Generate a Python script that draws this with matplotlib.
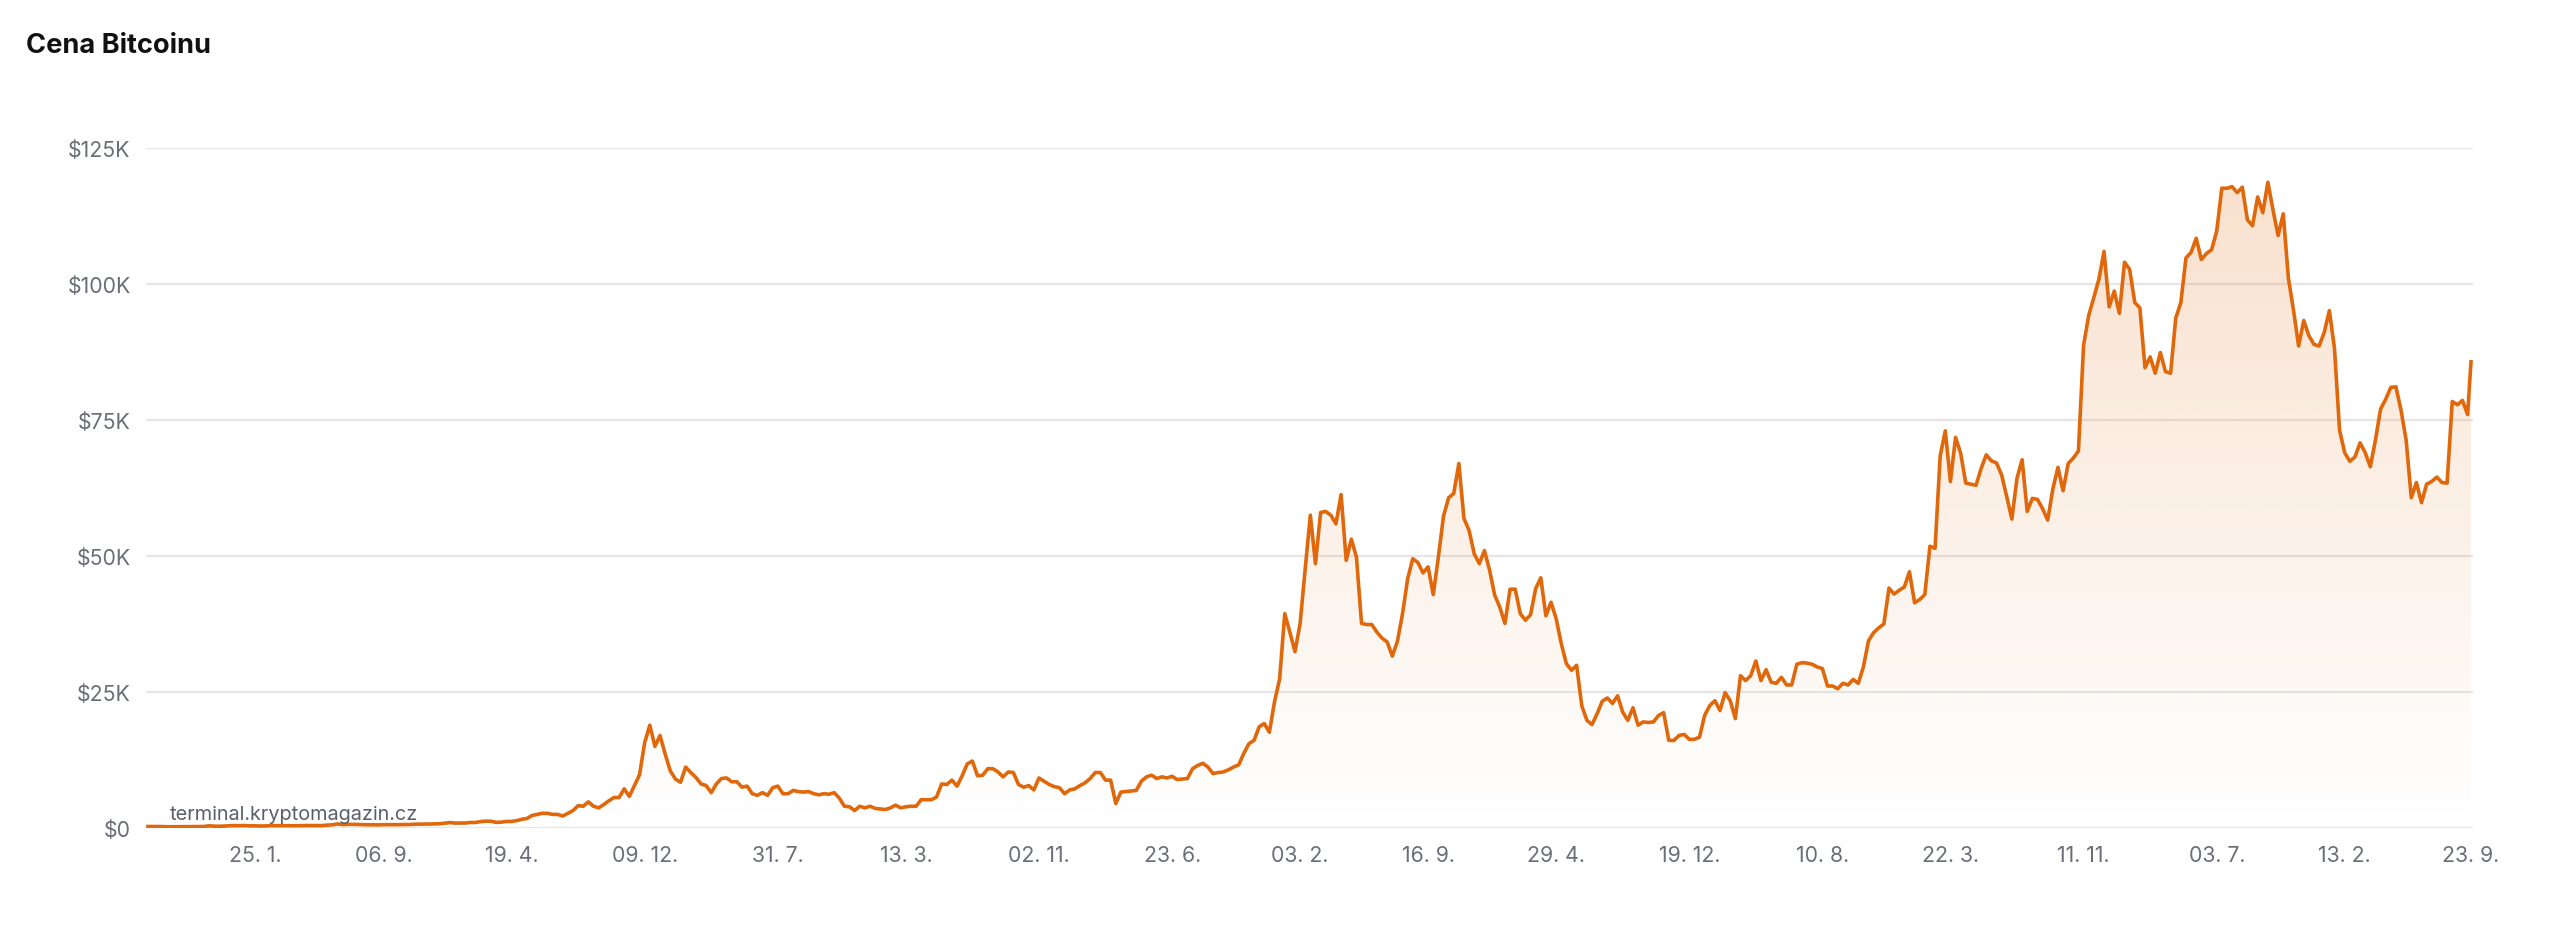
import numpy as np
import pandas as pd
import matplotlib
matplotlib.use("Agg")
import matplotlib.pyplot as plt
import matplotlib.dates as mdates
from matplotlib.colors import to_rgb

plt.rcParams['font.family'] = ['Inter', 'DejaVu Sans']

# ---------------- data ----------------
title = "Cena Bitcoinu"
watermark = "terminal.kryptomagazin.cz"
start_date = "2015-07-20"
step = "9D"
last_date = "2026-09-23"

# price in thousands of USD, one value every 9 days from start_date
price_k = [
    0.28, 0.285, 0.27, 0.26, 0.225, 0.23, 0.24, 0.23, 0.237, 0.245, 0.265, 0.29, 0.40, 0.33, 0.325, 0.36, 0.42, 0.44, 0.43, 0.45,
    0.39, 0.395, 0.37, 0.38, 0.44, 0.43, 0.415, 0.41, 0.42, 0.42, 0.43, 0.46, 0.445, 0.455, 0.44, 0.53, 0.58, 0.75, 0.63, 0.67,
    0.66, 0.655, 0.605, 0.59, 0.575, 0.575, 0.61, 0.61, 0.60, 0.612, 0.64, 0.63, 0.70, 0.71, 0.74, 0.735, 0.765, 0.78, 0.90, 1.00,
    0.90, 0.90, 0.92, 1.02, 1.01, 1.18, 1.26, 1.24, 1.03, 1.08, 1.21, 1.21, 1.35, 1.60, 1.75, 2.30, 2.50, 2.70, 2.70, 2.50,
    2.50, 2.20, 2.70, 3.20, 4.10, 4.00, 4.80, 4.00, 3.70, 4.30, 5.00, 5.60, 5.60, 7.20, 5.80, 7.80, 9.80, 15.7, 18.9, 15.0,
    17.0, 13.6, 10.5, 9.0, 8.4, 11.2, 10.2, 9.3, 8.1, 7.8, 6.5, 8.1, 9.1, 9.2, 8.5, 8.5, 7.5, 7.7, 6.3, 6.0,
    6.5, 6.0, 7.4, 7.7, 6.3, 6.3, 6.9, 6.7, 6.6, 6.7, 6.3, 6.1, 6.3, 6.2, 6.5, 5.5, 4.0, 3.9, 3.2, 4.0,
    3.7, 4.0, 3.6, 3.5, 3.4, 3.7, 4.2, 3.7, 3.9, 4.0, 4.0, 5.2, 5.2, 5.2, 5.7, 8.1, 8.0, 8.8, 7.7, 9.6,
    11.8, 12.3, 9.6, 9.7, 10.9, 10.9, 10.3, 9.4, 10.3, 10.2, 8.0, 7.5, 7.8, 7.0, 9.2, 8.6, 8.0, 7.6, 7.4, 6.3,
    7.0, 7.2, 7.8, 8.3, 9.1, 10.2, 10.2, 8.8, 8.8, 4.5, 6.6, 6.7, 6.8, 6.9, 8.6, 9.4, 9.7, 9.1, 9.4, 9.2,
    9.5, 8.9, 9.0, 9.1, 10.9, 11.5, 11.9, 11.2, 10.0, 10.2, 10.3, 10.7, 11.2, 11.6, 13.7, 15.5, 16.1, 18.6, 19.2, 17.6,
    23.2, 27.4, 39.4, 36.0, 32.4, 37.6, 47.7, 57.5, 48.6, 58.0, 58.2, 57.5, 55.9, 61.3, 49.2, 53.1, 49.8, 37.6, 37.4, 37.4,
    36.0, 34.9, 34.2, 31.6, 34.3, 39.4, 45.8, 49.5, 48.8, 46.9, 48.0, 42.9, 49.8, 57.3, 60.7, 61.5, 67.0, 56.9, 54.7, 50.4,
    48.6, 51.0, 47.4, 42.8, 40.6, 37.6, 43.9, 43.9, 39.4, 38.2, 39.2, 44.0, 46.0, 39.0, 41.5, 38.5, 33.9, 30.2, 29.0, 29.9,
    22.5, 19.8, 19.0, 21.0, 23.3, 23.9, 22.9, 24.3, 21.3, 19.8, 22.1, 18.9, 19.5, 19.4, 19.5, 20.7, 21.2, 16.1, 16.1, 17.0,
    17.2, 16.3, 16.3, 16.7, 20.7, 22.5, 23.4, 21.6, 24.9, 23.4, 20.1, 28.0, 27.1, 28.0, 30.7, 27.1, 29.1, 26.8, 26.6, 27.7,
    26.3, 26.3, 30.1, 30.4, 30.3, 30.1, 29.6, 29.3, 26.1, 26.1, 25.6, 26.6, 26.3, 27.3, 26.6, 29.6, 34.4, 35.9, 36.8, 37.5,
    44.1, 43.0, 43.7, 44.3, 47.1, 41.4, 42.0, 42.9, 51.8, 51.4, 68.4, 73.0, 63.7, 71.8, 68.9, 63.4, 63.2, 63.0, 66.1, 68.6,
    67.5, 67.1, 64.9, 60.9, 56.8, 64.3, 67.7, 58.2, 60.6, 60.4, 58.7, 56.6, 62.3, 66.3, 62.0, 67.0, 68.0, 69.3, 88.7, 94.2,
    97.5, 100.9, 106.0, 95.8, 98.7, 94.6, 104.0, 102.7, 96.6, 95.6, 84.6, 86.6, 83.6, 87.4, 83.9, 83.6, 93.7, 96.6, 104.8, 105.8,
    108.4, 104.5, 105.6, 106.3, 109.7, 117.6, 117.6, 117.9, 116.8, 117.8, 111.8, 110.7, 116.0, 113.1, 118.7, 113.6, 108.9, 112.9, 101.1, 95.2,
    88.6, 93.3, 90.5, 88.9, 88.6, 91.1, 95.1, 88.2, 73.1, 69.0, 67.4, 68.2, 70.8, 69.0, 66.4, 71.3, 77.0, 78.8, 81.0, 81.1,
    76.8, 71.3, 60.7, 63.5, 59.8, 63.2, 63.7, 64.5, 63.5, 63.4, 78.4, 77.8, 78.6, 76.0,
]
last_price_k = 85.7

x_tick_dates = ["2016-01-25", "2016-09-06", "2017-04-19", "2017-12-09", "2018-07-31",
                "2019-03-13", "2019-11-02", "2020-06-23", "2021-02-03", "2021-09-16",
                "2022-04-29", "2022-12-19", "2023-08-10", "2024-03-22", "2024-11-11",
                "2025-07-03", "2026-02-13", "2026-09-23"]
y_ticks = [0, 25000, 50000, 75000, 100000, 125000]
y_tick_labels = ["$0", "$25K", "$50K", "$75K", "$100K", "$125K"]

# ---------------- build series ----------------
dates = list(pd.date_range(start_date, periods=len(price_k), freq=step)) + [pd.Timestamp(last_date)]
prices = np.array(price_k + [last_price_k]) * 1000.0
xd = mdates.date2num(pd.to_datetime(dates))

# ---------------- styling ----------------
W, H = 2560, 953
fig = plt.figure(figsize=(W / 100, H / 100), dpi=100)
fig.patch.set_facecolor("white")

ax_left, ax_right, ax_bottom, ax_top = 146, 2473, 829, 149
ax = fig.add_axes([ax_left / W, 1 - ax_bottom / H, (ax_right - ax_left) / W, (ax_bottom - ax_top) / H])
ax.set_facecolor("white")

line_color = "#E0670A"
grid_color = "#E6E6E8"
label_color = "#6B6E76"

pad_days = 3.5

for s in ax.spines.values():
    s.set_visible(False)

ax.set_yticks(y_ticks)
ax.set_yticklabels(y_tick_labels)
ax.yaxis.grid(True, color=grid_color, linewidth=1.6)
ax.set_axisbelow(True)
ax.tick_params(axis="y", length=0, pad=11, labelsize=15.3, labelcolor=label_color)

tick_x = mdates.date2num(pd.to_datetime(x_tick_dates))
ax.set_xticks(tick_x)
ax.set_xticklabels([f"{d.day:02d}. {d.month}." for d in pd.to_datetime(x_tick_dates)])
ax.tick_params(axis="x", length=0, pad=12, labelsize=15.3, labelcolor=label_color)

# gradient fill under the curve
rgb = np.array(to_rgb(line_color))
n = 256
alphas = np.linspace(0.0, 0.21, n)[:, None]
img = np.zeros((n, 2, 4))
img[..., :3] = rgb
img[..., 3] = alphas
im = ax.imshow(img, aspect="auto", origin="lower",
               extent=[xd[0], xd[-1], 0, 125000], zorder=1, interpolation="bilinear")
poly = ax.fill_between(xd, prices, 0, facecolor="none", edgecolor="none")
clip = poly.get_paths()[0]
im.set_clip_path(clip, transform=ax.transData)

ax.plot(xd, prices, color=line_color, linewidth=2.6, solid_joinstyle="round", zorder=3)
ax.set_xlim(xd[0] - pad_days, xd[-1] + pad_days)
ax.set_ylim(0, 125000)

fig.text(26 / W, 1 - 53 / H, title, fontsize=19.6, fontweight="bold", color="#111111", va="baseline", ha="left")
fig.text(170 / W, 1 - 820 / H, watermark, fontsize=14.3, color="#5B5F69", va="baseline", ha="left")

fig.savefig("out.png", dpi=100, facecolor="white")
